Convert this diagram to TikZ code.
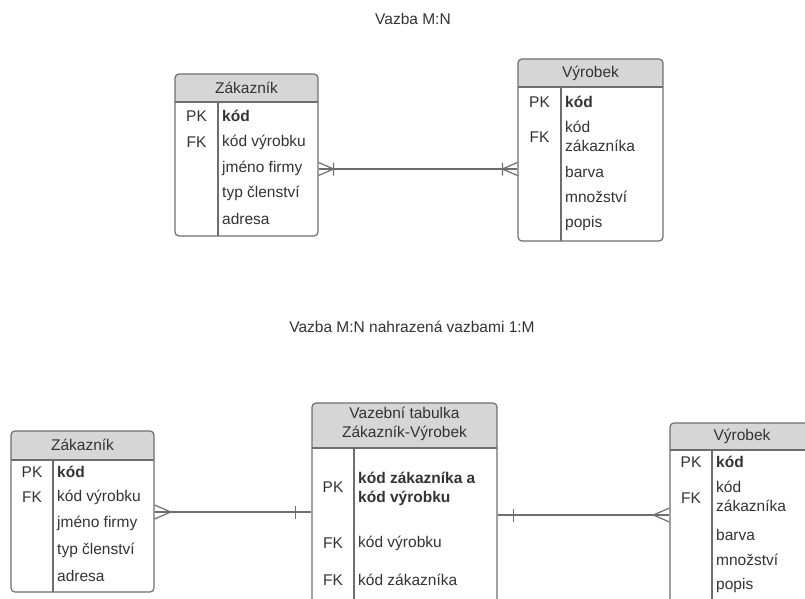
\documentclass[tikz,border=0pt]{standalone}
\usepackage{fontspec}
\setmainfont{Liberation Sans}
\usetikzlibrary{positioning, fit}
\definecolor{erline}{HTML}{6E6E6E}
\definecolor{erhead}{HTML}{D6D6D6}
\definecolor{ertext}{HTML}{333333}
\newcommand{\erfont}{\fontsize{15.5}{19}\selectfont}
\tikzset{
  tbl/.style={draw=erline, line width=1.2pt, rounded corners=4pt, inner sep=0pt},
  link/.style={draw=erline, line width=1.2pt},
  cell/.style={anchor=west, inner sep=0pt, text=ertext, align=left, font=\erfont},
  key/.style={inner sep=0pt, text=ertext, font=\erfont},
  hdr/.style={inner sep=0pt, text=ertext, align=center, font=\erfont},
  ttl/.style={inner sep=0pt, text=ertext, font=\erfont},
  many/.pic={\draw[link] (0,-7) -- (16,0) -- (0,7);},
  manybar/.pic={\draw[link] (0,-6.5) -- (15,0) -- (0,6.5) (15,-6.5) -- (15,6.5);},
  onebar/.pic={\draw[link] (16,-6.5) -- (16,6.5);},
}
% name, left, top, right, bottom, header bottom, divider
\newcommand{\ertable}[7]{%
  \begin{scope}
    \clip[rounded corners=4pt] (#2,#3) rectangle (#4,#5);
    \fill[erhead] (#2,#3) rectangle (#4,#6);
  \end{scope}
  \node[tbl, fit={(#2,#3) (#4,#5)}] (#1) {};
  \draw[link] (#2,#6) -- (#4,#6) (#7,#6) -- (#7,#5);
}
\begin{document}
\begin{tikzpicture}[x={(1pt,0)}, y={(0,-1pt)}]
  \path[use as bounding box] (0,0) rectangle (805,599);
  \clip (0,0) rectangle (805,599);

  % M:N
  \node[ttl] (titleA) at (413,19) {Vazba M:N};

  \ertable{zakA}{175}{74}{318}{236}{102}{218}
  \node[hdr] (zakAh) at (246.5,88) {Zákazník};
  \node[key] at (196.5,116) {PK};
  \node[key] at (196.5,142) {FK};
  \node[cell] at (222,116) {\textbf{kód}};
  \node[cell] at (222,142) {kód výrobku};
  \node[cell] at (222,168) {jméno firmy};
  \node[cell] at (222,193) {typ členství};
  \node[cell] at (222,219) {adresa};

  \ertable{vyrA}{518}{59}{663}{241}{87}{561}
  \node[hdr] (vyrAh) at (590.5,73) {Výrobek};
  \node[key] at (539.5,102) {PK};
  \node[key] at (539.5,137) {FK};
  \node[cell] at (565,102) {\textbf{kód}};
  \node[cell] at (565,136.5) {kód\\zákazníka};
  \node[cell] at (565,172) {barva};
  \node[cell] at (565,197) {množství};
  \node[cell] at (565,223) {popis};

  \coordinate (mA) at (0,169);
  \draw[link] (zakA.east |- mA) -- (vyrA.west |- mA);
  \pic at (zakA.east |- mA) {manybar};
  \pic[rotate=180] at (vyrA.west |- mA) {manybar};

  % 1:M
  \node[ttl] (titleB) at (412,327) {Vazba M:N nahrazená vazbami 1:M};

  \ertable{zakB}{11}{431}{154}{592}{460}{53}
  \node[hdr] (zakBh) at (82.5,445) {Zákazník};
  \node[key] at (32,472) {PK};
  \node[key] at (32,497) {FK};
  \node[cell] at (57,472) {\textbf{kód}};
  \node[cell] at (57,497) {kód výrobku};
  \node[cell] at (57,523) {jméno firmy};
  \node[cell] at (57,550) {typ členství};
  \node[cell] at (57,576) {adresa};

  \ertable{vazB}{312}{403}{497}{620}{448}{354}
  \node[hdr] (vazBh) at (404.5,424) {Vazební tabulka\\Zákazník-Výrobek};
  \node[key] at (333,487) {PK};
  \node[key] at (333,543) {FK};
  \node[key] at (333,580) {FK};
  \node[cell] at (358,488.5) {\textbf{kód zákazníka a}\\\textbf{kód výrobku}};
  \node[cell] at (358,543) {kód výrobku};
  \node[cell] at (358,580) {kód zákazníka};

  \ertable{vyrB}{670}{423}{815}{620}{450}{712}
  \node[hdr] (vyrBh) at (742,436) {Výrobek};
  \node[key] at (691,462) {PK};
  \node[key] at (691,498) {FK};
  \node[cell] at (716,462) {\textbf{kód}};
  \node[cell] at (716,496) {kód\\zákazníka};
  \node[cell] at (716,535) {barva};
  \node[cell] at (716,560) {množství};
  \node[cell] at (716,585) {popis};

  \coordinate (mB) at (0,512);
  \coordinate (mC) at (0,515);
  \draw[link] (zakB.east |- mB) -- (vazB.west |- mB);
  \pic at (zakB.east |- mB) {many};
  \pic[rotate=180] at (vazB.west |- mB) {onebar};
  \draw[link] (vazB.east |- mC) -- (vyrB.west |- mC);
  \pic at (vazB.east |- mC) {onebar};
  \pic[rotate=180] at (vyrB.west |- mC) {many};
\end{tikzpicture}
\end{document}
